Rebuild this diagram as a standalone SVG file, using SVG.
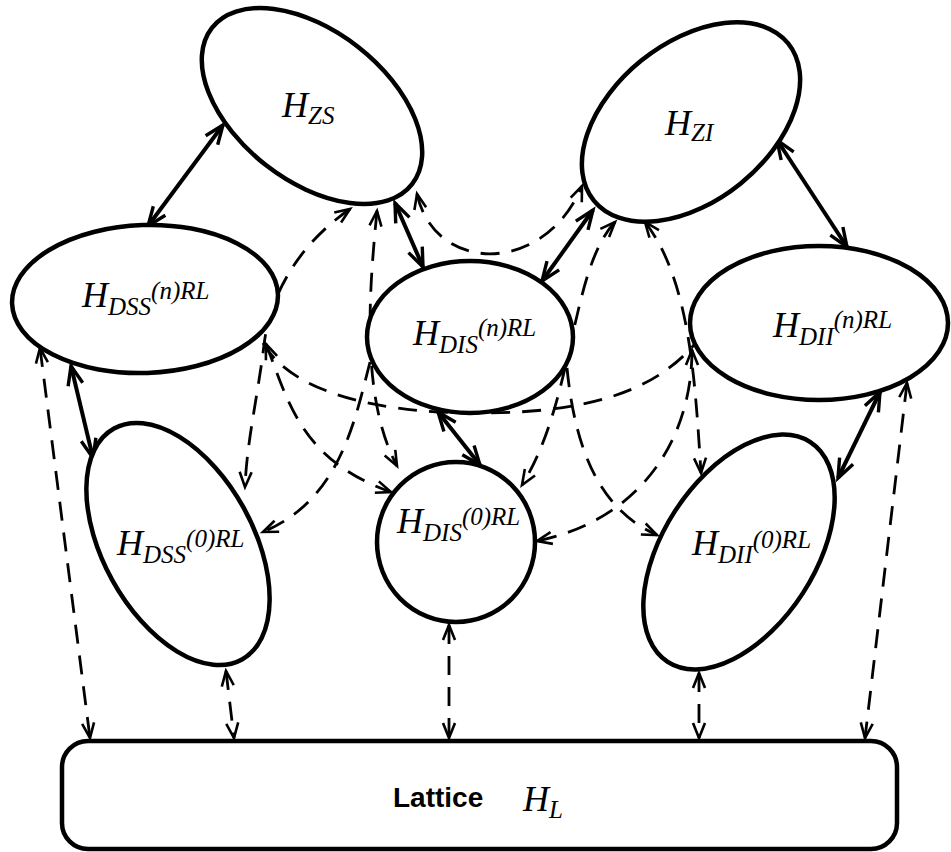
<svg xmlns="http://www.w3.org/2000/svg" width="951" height="852" viewBox="0 0 951 852">
  <style>
    .node ellipse, .node rect { fill: #fff; stroke: #000; stroke-width: 4.5; }
    .solid { fill: none; stroke: #000; stroke-width: 4; }
    .dash { fill: none; stroke: #000; stroke-width: 2.8; stroke-dasharray: 19 12; }
    .both { marker-start: url(#ad); marker-end: url(#ad); }
    .endonly { marker-end: url(#ad); }
    .sb { marker-start: url(#as); marker-end: url(#as); }
    .h { font-family: "Liberation Serif", "Times New Roman", serif; font-style: italic; font-size: 36px; fill: #000; }
    .s { font-size: 25px; }
    .lat { font-family: "Liberation Sans", Arial, sans-serif; font-weight: bold; font-size: 28px; fill: #000; }
  </style>
  <defs>
    <!-- open V heads: thin for dashed links, heavy for solid links -->
    <marker id="ad" viewBox="-18 -9 20 18" refX="0" refY="0" markerWidth="20" markerHeight="18" markerUnits="userSpaceOnUse" orient="auto-start-reverse" style="overflow:visible">
      <path d="M-15,-6 L0,0 L-15,6" fill="none" stroke="#000" stroke-width="2.6" stroke-dasharray="none"/>
    </marker>
    <marker id="as" viewBox="-22 -10 24 20" refX="0" refY="0" markerWidth="24" markerHeight="20" markerUnits="userSpaceOnUse" orient="auto-start-reverse" style="overflow:visible">
      <path d="M-19,-7.5 L0,0 L-19,7.5" fill="none" stroke="#000" stroke-width="3.4"/>
    </marker>
  </defs>

  <g id="connectors">
    <!-- dashed relaxation paths -->
    <path class="dash both" d="M350,209 C298,245 270,295 264,345 S247,440 245,487"/>
    <path class="dash both" d="M377,211 C368,300 362,400 397,466"/>
    <path class="dash both" d="M417,194 C435,275 545,275 582,186"/>
    <path class="dash both" d="M615,222 C570,270 575,400 522,485"/>
    <path class="dash both" d="M645,222 C690,280 695,380 701,473"/>
    <path class="dash" d="M263,343 C290,390 370,412 470,413 C580,414 650,395 694,345"/>
    <path class="dash both" d="M266,344 C288,400 300,460 391,492"/>
    <path class="dash both" d="M692,350 C692,440 640,520 537,541"/>
    <path class="dash endonly" d="M370,362 C355,420 340,500 263,532"/>
    <path class="dash endonly" d="M567,368 C575,450 600,510 657,535"/>
    <!-- dashed links down to the lattice -->
    <path class="dash both" d="M40,348 L90,738"/>
    <path class="dash both" d="M226,671 L234,738"/>
    <path class="dash both" d="M449,625 L449,738"/>
    <path class="dash both" d="M699,673 L699,738"/>
    <path class="dash both" d="M907,383 L865,738"/>
    <!-- solid couplings -->
    <path class="solid sb" d="M223,125 L148,226"/>
    <path class="solid sb" d="M395,203 L423,267"/>
    <path class="solid sb" d="M593,210 L542,281"/>
    <path class="solid sb" d="M777,140 L847,247"/>
    <path class="solid sb" d="M71,366 L93,458"/>
    <path class="solid sb" d="M438,412 L480,465"/>
    <path class="solid sb" d="M880,392 L838,478"/>
  </g>

  <g id="H_ZS" class="node">
    <ellipse cx="312" cy="106" rx="127" ry="75" transform="rotate(38 312 106)"/>
    <text class="h" x="282" y="117">H<tspan class="s" y="124">ZS</tspan></text>
  </g>
  <g id="H_ZI" class="node">
    <ellipse cx="691" cy="122" rx="125" ry="79" transform="rotate(-39 691 122)"/>
    <text class="h" x="665" y="135">H<tspan class="s" y="141">ZI</tspan></text>
  </g>
  <g id="H_DSS_n" class="node">
    <ellipse cx="145" cy="299" rx="133" ry="74" transform="rotate(-2 145 299)"/>
    <text class="h" x="82" y="307">H<tspan class="s" y="315">DSS</tspan><tspan class="s" y="299">(n)RL</tspan></text>
  </g>
  <g id="H_DIS_n" class="node">
    <ellipse cx="470" cy="337" rx="103" ry="76"/>
    <text class="h" x="413" y="345">H<tspan class="s" y="353">DIS</tspan><tspan class="s" y="336">(n)RL</tspan></text>
  </g>
  <g id="H_DII_n" class="node">
    <ellipse cx="819" cy="323" rx="129" ry="77"/>
    <text class="h" x="773" y="337">H<tspan class="s" y="345">DII</tspan><tspan class="s" y="328">(n)RL</tspan></text>
  </g>
  <g id="H_DSS_0" class="node">
    <ellipse cx="178" cy="544" rx="75" ry="132" transform="rotate(-29 178 544)"/>
    <text class="h" x="117" y="555">H<tspan class="s" y="563">DSS</tspan><tspan class="s" y="547">(0)RL</tspan></text>
  </g>
  <g id="H_DIS_0" class="node">
    <ellipse cx="456" cy="542" rx="79" ry="80"/>
    <text class="h" x="397" y="533">H<tspan class="s" y="541">DIS</tspan><tspan class="s" y="525">(0)RL</tspan></text>
  </g>
  <g id="H_DII_0" class="node">
    <ellipse cx="739" cy="552" rx="76" ry="131" transform="rotate(33 739 552)"/>
    <text class="h" x="692" y="555">H<tspan class="s" y="563">DII</tspan><tspan class="s" y="548">(0)RL</tspan></text>
  </g>
  <g id="H_L" class="node">
    <rect x="62" y="741" width="835" height="108" rx="26" ry="26"/>
    <text class="lat" x="393" y="807">Lattice</text>
    <text class="h" x="523" y="811">H<tspan class="s" y="818">L</tspan></text>
  </g>
</svg>
